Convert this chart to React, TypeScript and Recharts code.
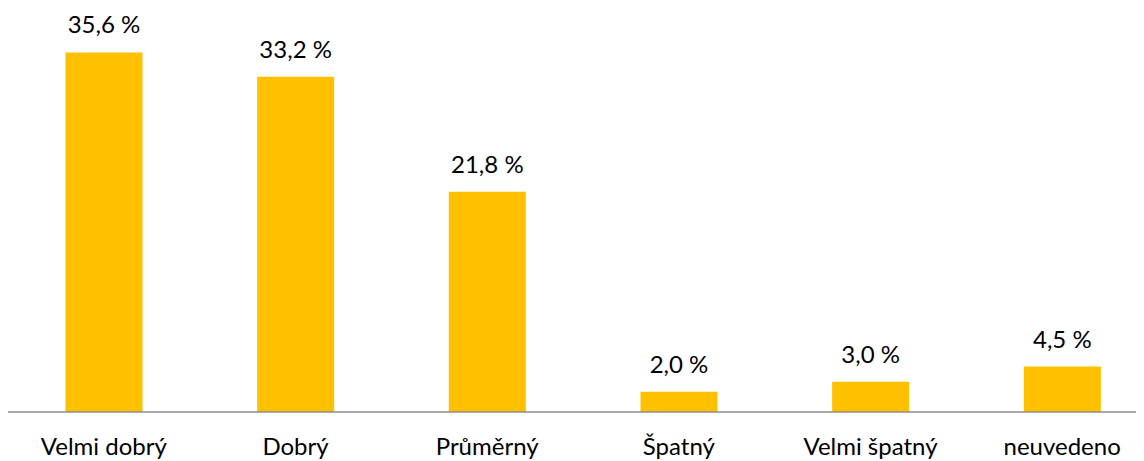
import { BarChart, Bar, XAxis, YAxis, LabelList } from 'recharts';

const categories = ['Velmi dobrý', 'Dobrý', 'Průměrný', 'Špatný', 'Velmi špatný', 'neuvedeno'];
const shares = [35.6, 33.2, 21.8, 2.0, 3.0, 4.5];

const data = categories.map((name, i) => ({ name, value: shares[i] }));

const formatPct = (v: number | string) => `${Number(v).toFixed(1).replace('.', ',')} %`;

export default function App() {
  return (
    <div style={{ width: 1136, height: 453, overflow: 'hidden', fontFamily: 'Lato, sans-serif' }}>
      <BarChart
        width={1150}
        height={453}
        data={data}
        margin={{ top: 0, right: 0, left: 0, bottom: 0 }}
        barCategoryGap="30%"
      >
        <XAxis
          dataKey="name"
          height={49}
          axisLine={{ stroke: '#8c8c8c', strokeWidth: 1.5 }}
          tickLine={false}
          tickSize={0}
          tickMargin={26}
          interval={0}
          tick={{ fontSize: 24, fill: '#000' }}
        />
        <YAxis hide domain={[0, 40]} />
        <Bar dataKey="value" fill="#FFC000" isAnimationActive={false}>
          <LabelList
            dataKey="value"
            position="top"
            offset={19}
            formatter={formatPct}
            style={{ fontSize: 24, fill: '#000' }}
          />
        </Bar>
      </BarChart>
    </div>
  );
}
